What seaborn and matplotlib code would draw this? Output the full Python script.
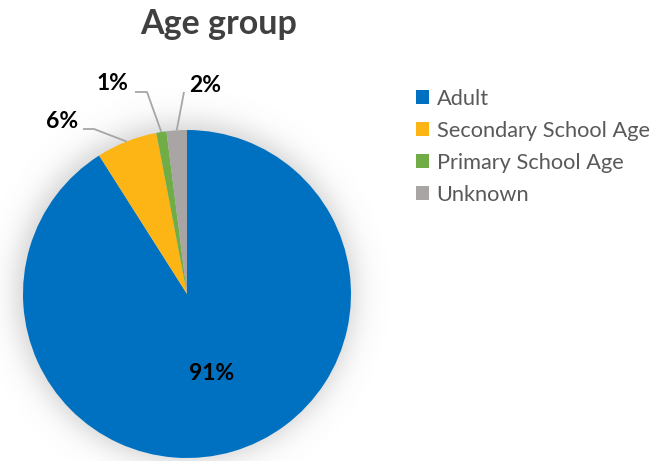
import numpy as np
import matplotlib
matplotlib.use("Agg")
import matplotlib.pyplot as plt
import seaborn as sns

# Age group breakdown
categories = ["Adult", "Secondary School Age", "Primary School Age", "Unknown"]
shares = [91, 6, 1, 2]
colors = ["#0070C0", "#FDB515", "#70AD47", "#A9A5A5"]
title = "Age group"

sns.set_theme(style="white")
plt.rcParams["font.family"] = ["Lato", "DejaVu Sans"]

W, H = 658, 461
fig = plt.figure(figsize=(W / 100, H / 100), dpi=100)
ax = fig.add_axes([0, 0, 1, 1])

# pie centre and radius in pixels
cx, cy, R = 187, 294, 164

# soft shadow under the pie
gx = np.linspace(-1.4, 1.4, 400)
GX, GY = np.meshgrid(gx, gx)
rr = np.hypot(GX + 0.01, GY - 0.01)
alpha = 0.30 / (1 + np.exp((rr - 1.035) / 0.05))
shadow = np.zeros((400, 400, 4))
shadow[..., :3] = 0.4
shadow[..., 3] = alpha
ax.imshow(shadow, extent=(-1.4, 1.4, -1.4, 1.4), origin="lower", zorder=0,
          interpolation="bilinear")

wedges, _ = ax.pie(shares, colors=colors, startangle=90, counterclock=False,
                   radius=1.0, wedgeprops=dict(linewidth=0, zorder=1))

ax.set_xlim((0 - cx) / R, (W - cx) / R)
ax.set_ylim((cy - H) / R, (cy - 0) / R)
ax.set_aspect("auto")
ax.axis("off")

def px(x, y):
    return (x - cx) / R, (cy - y) / R

lbl_kw = dict(fontsize=16.5, fontweight="bold", color="black",
              ha="center", va="center", zorder=5)

# label positions and leader elbows (pixels)
label_pos = {0: (212, 373), 1: (62, 121), 2: (113, 83), 3: (205, 86)}
leaders = {1: [(83, 129), (94, 129)], 2: [(135, 92), (147, 92)], 3: [(184, 92)]}

for i, w in enumerate(wedges):
    lx, ly = px(*label_pos[i])
    ax.text(lx, ly, f"{shares[i]}%", **lbl_kw)
    if i in leaders:
        mid = np.deg2rad((w.theta1 + w.theta2) / 2)
        pts = [px(*p) for p in leaders[i]] + [(np.cos(mid), np.sin(mid))]
        xs, ys = zip(*pts)
        ax.plot(xs, ys, color="#A6A6A6", lw=1.3, zorder=4, solid_capstyle="butt")

fig.text(219 / W, 1 - 24 / H, title, fontsize=24.5, fontweight="bold",
         color="#404040", ha="center", va="center")

leg = fig.legend(wedges, categories, loc="upper left",
                 bbox_to_anchor=(416 / W, 1 - 89 / H), frameon=False,
                 fontsize=15.7, handlelength=0.6, handleheight=0.6,
                 handletextpad=0.35, labelspacing=0.55, borderaxespad=0,
                 borderpad=0)
for t in leg.get_texts():
    t.set_color("#595959")

fig.savefig("out.png", dpi=100, facecolor="white")
